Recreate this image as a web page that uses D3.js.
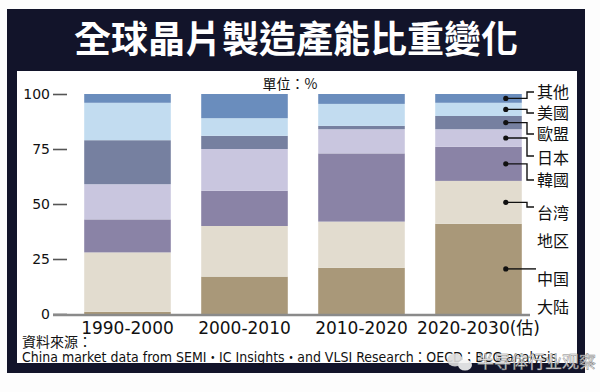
<!DOCTYPE html>
<meta charset="utf-8">
<style>
body { margin: 0; background: #fdfdfd; }
text { font-family: "Noto Sans CJK TC", "Noto Sans", sans-serif; }
.tick line { stroke: #555; stroke-width: 1.6px; }
.axis .domain { display: none; }
.leader { fill: none; stroke: #111; stroke-width: 1.4px; }
</style>
<body>
<svg id="chart" width="600" height="392"></svg>

<script src="https://cdn.jsdelivr.net/npm/d3@7"></script>
<script>

// periods on the x axis
var periods = ["1990-2000", "2000-2010", "2010-2020", "2020-2030(估)"];

// share of global wafer capacity (%), one array per region, bottom to top
var china  = [1, 17, 21, 41];
var taiwan = [27, 23, 21, 19.5];
var korea  = [15, 16, 31, 15.5];
var japan  = [16, 19, 11, 8];
var eu     = [20, 6, 1.5, 6];
var us     = [17, 8, 10, 6];
var other  = [4, 11, 4.5, 4];

var regions = ["中国大陆", "台湾地区", "韓國", "日本", "歐盟", "美國", "其他"];
var series  = [china, taiwan, korea, japan, eu, us, other];
var yTicks  = [0, 25, 50, 75, 100];

var colors = ["#a99879", "#e2dccf", "#8a83a6", "#c9c6df", "#7680a0", "#c2dcf0", "#6a8dbd"];

// legend label lines (text may be split on two lines) and where they sit
var legendLines = [["中国", "大陆"], ["台湾", "地区"], ["韓國"], ["日本"], ["歐盟"], ["美國"], ["其他"]];
var legendY     = [279, 213, 180, 158, 134, 113, 92];
var elbowY      = [null, 207, 180, 156, 134, 113, 92];

var rows = periods.map(function(p, i) {
	var r = {period: p};
	regions.forEach(function(k, j) { r[k] = series[j][i]; });
	return r;
});

var svg = d3.select("#chart");

// frame
svg.append("rect").attr("x", 7).attr("y", 9).attr("width", 578).attr("height", 364).attr("fill", "#12142a");
svg.append("rect").attr("x", 17).attr("y", 71).attr("width", 560).attr("height", 292).attr("fill", "#ffffff");

svg.append("text")
	.attr("x", 296).attr("y", 40)
	.attr("dy", "0.36em")
	.attr("text-anchor", "middle")
	.style("font-size", "37px")
	.style("font-weight", "bold")
	.style("fill", "#fff")
	.text("全球晶片製造產能比重變化");

svg.append("text")
	.attr("x", 290).attr("y", 84)
	.attr("dy", "0.36em")
	.attr("text-anchor", "middle")
	.style("font-size", "14px")
	.style("fill", "#111")
	.text("單位：%");

var x = d3.scaleBand().domain(periods).range([69, 537]).paddingInner(0.26).paddingOuter(0.13);
var y = d3.scaleLinear().domain([0, 100]).range([314, 94]);

var stack = d3.stack().keys(regions)(rows);

svg.append("g")
	.selectAll("g")
	.data(stack)
	.join("g")
	.attr("fill", function(d, i) { return colors[i]; })
	.selectAll("rect")
	.data(function(d) { return d; })
	.join("rect")
	.attr("x", function(d) { return x(d.data.period); })
	.attr("y", function(d) { return y(d[1]); })
	.attr("height", function(d) { return y(d[0]) - y(d[1]); })
	.attr("width", x.bandwidth());

// y axis
var yAxis = svg.append("g")
	.attr("class", "axis")
	.attr("transform", "translate(67,0)")
	.call(d3.axisLeft(y).tickValues(yTicks).tickSize(14).tickPadding(3));
yAxis.selectAll("text")
	.style("font-family", "'DejaVu Sans', sans-serif")
	.style("font-size", "14px")
	.style("fill", "#111");

// baseline
svg.append("line")
	.attr("x1", 53).attr("x2", 530)
	.attr("y1", y(0) + 1).attr("y2", y(0) + 1)
	.attr("stroke", "#8a8a8a").attr("stroke-width", 2.5);

// x labels
svg.append("g")
	.selectAll("text")
	.data(periods)
	.join("text")
	.attr("x", function(d) { return x(d) + x.bandwidth() / 2; })
	.attr("y", 328)
	.attr("dy", "0.36em")
	.attr("text-anchor", "middle")
	.style("font-family", "'DejaVu Sans', 'Noto Sans CJK TC', sans-serif")
	.style("font-size", "17px")
	.style("fill", "#111")
	.text(function(d) { return d; });

// legend with leader lines off the last bar
var last = periods[periods.length - 1];
var dotX = x(last) + x.bandwidth() - 16, elbowX = 527, textX = 537;
var leg = svg.append("g");
stack.forEach(function(s, i) {
	var d = s[s.length - 1];
	var cy = y((d[0] + d[1]) / 2);
	leg.append("circle").attr("cx", dotX).attr("cy", cy).attr("r", 2.6).attr("fill", "#111");
	var pts = elbowY[i] == null
		? [[dotX, cy], [textX - 1, cy]]
		: [[dotX, cy], [elbowX, cy], [elbowX, elbowY[i]], [textX - 3, elbowY[i]]];
	leg.append("path").attr("class", "leader").attr("d", d3.line()(pts));
	legendLines[i].forEach(function(t, k) {
		leg.append("text")
			.attr("x", textX)
			.attr("y", legendY[i] + k * 28)
			.attr("dy", "0.36em")
			.style("font-size", "16px")
			.style("fill", "#111")
			.text(t);
	});
});

// source
svg.append("text")
	.attr("x", 22).attr("y", 342)
	.attr("dy", "0.36em")
	.style("font-size", "14px")
	.style("fill", "#111")
	.text("資料來源：");

svg.append("text")
	.attr("x", 22).attr("y", 357)
	.attr("dy", "0.36em")
	.attr("textLength", 535)
	.attr("lengthAdjust", "spacingAndGlyphs")
	.style("font-family", "'DejaVu Sans', 'Noto Sans CJK TC', sans-serif")
	.style("font-size", "13.5px")
	.style("fill", "#111")
	.text("China market data from SEMI・IC Insights・and VLSI Research：OECD；BCG analysis");

// watermark
var wm = svg.append("g").style("opacity", 0.9);
wm.append("ellipse").attr("cx", 455).attr("cy", 360).attr("rx", 8).attr("ry", 6.5).attr("fill", "#ddd");
wm.append("ellipse").attr("cx", 465).attr("cy", 365).attr("rx", 7).attr("ry", 5.5).attr("fill", "#f4f4f4");
wm.append("text")
	.attr("x", 477).attr("y", 362)
	.attr("dy", "0.36em")
	.style("font-size", "17px")
	.style("fill", "#fff")
	.style("stroke", "#777")
	.style("stroke-width", "0.5px")
	.text("半导体行业观察");

</script>
</body>
